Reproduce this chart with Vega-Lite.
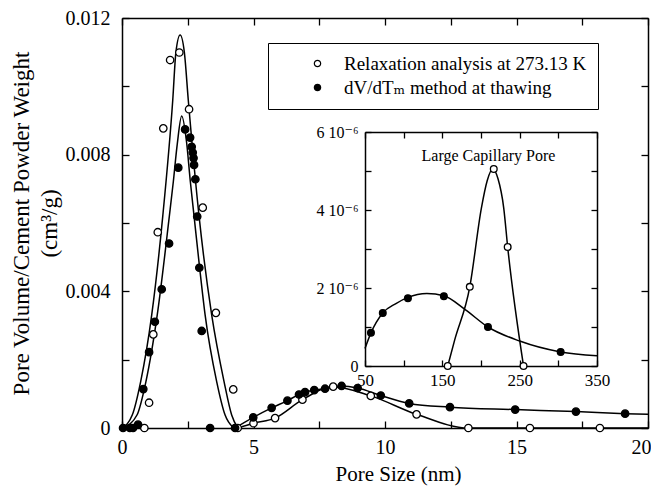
{
  "$schema": "https://vega.github.io/schema/vega-lite/v6.json",
  "width": 526,
  "height": 410,
  "autosize": "none",
  "padding": {"left": 122, "top": 18, "right": 3, "bottom": 65},
  "background": "white",
  "config": {
    "view": {"stroke": null},
    "font": "Liberation Serif, DejaVu Serif, DejaVu Sans",
    "axis": {
      "grid": false,
      "labelFont": "Liberation Serif, DejaVu Serif, DejaVu Sans",
      "titleFont": "Liberation Serif, DejaVu Serif, DejaVu Sans",
      "labelColor": "black",
      "titleColor": "black",
      "domainColor": "black",
      "tickColor": "black",
      "domainWidth": 1.5,
      "tickWidth": 1.3,
      "labelFlush": false,
      "titleFontWeight": "normal"
    },
    "legend": {
      "labelFont": "Liberation Serif, DejaVu Serif, DejaVu Sans",
      "labelColor": "black"
    }
  },
  "datasets": {
    "points": [
      {"size": 0.85, "vol": 0, "series": "Relaxation analysis at 273.13 K"},
      {"size": 1.03, "vol": 0.00074, "series": "Relaxation analysis at 273.13 K"},
      {"size": 1.19, "vol": 0.00274, "series": "Relaxation analysis at 273.13 K"},
      {"size": 1.36, "vol": 0.00573, "series": "Relaxation analysis at 273.13 K"},
      {"size": 1.57, "vol": 0.00877, "series": "Relaxation analysis at 273.13 K"},
      {"size": 1.83, "vol": 0.01077, "series": "Relaxation analysis at 273.13 K"},
      {"size": 2.18, "vol": 0.01099, "series": "Relaxation analysis at 273.13 K"},
      {"size": 2.55, "vol": 0.00933, "series": "Relaxation analysis at 273.13 K"},
      {"size": 3.07, "vol": 0.00645, "series": "Relaxation analysis at 273.13 K"},
      {"size": 3.57, "vol": 0.00337, "series": "Relaxation analysis at 273.13 K"},
      {"size": 4.23, "vol": 0.00113, "series": "Relaxation analysis at 273.13 K"},
      {"size": 4.4, "vol": 0, "series": "Relaxation analysis at 273.13 K"},
      {"size": 5.0, "vol": 0.00014, "series": "Relaxation analysis at 273.13 K"},
      {"size": 5.82, "vol": 0.00029, "series": "Relaxation analysis at 273.13 K"},
      {"size": 6.86, "vol": 0.00083, "series": "Relaxation analysis at 273.13 K"},
      {"size": 8.03, "vol": 0.00121, "series": "Relaxation analysis at 273.13 K"},
      {"size": 9.46, "vol": 0.00094, "series": "Relaxation analysis at 273.13 K"},
      {"size": 11.2, "vol": 0.0004, "series": "Relaxation analysis at 273.13 K"},
      {"size": 13.17, "vol": 0, "series": "Relaxation analysis at 273.13 K"},
      {"size": 15.51, "vol": 0, "series": "Relaxation analysis at 273.13 K"},
      {"size": 18.17, "vol": 0, "series": "Relaxation analysis at 273.13 K"},
      {"size": 0.04, "vol": 0, "series": "dV/dTₘ method at thawing"},
      {"size": 0.3, "vol": 0, "series": "dV/dTₘ method at thawing"},
      {"size": 0.42, "vol": 0, "series": "dV/dTₘ method at thawing"},
      {"size": 0.61, "vol": 0.0001, "series": "dV/dTₘ method at thawing"},
      {"size": 0.81, "vol": 0.00114, "series": "dV/dTₘ method at thawing"},
      {"size": 1.03, "vol": 0.00222, "series": "dV/dTₘ method at thawing"},
      {"size": 1.25, "vol": 0.00311, "series": "dV/dTₘ method at thawing"},
      {"size": 1.51, "vol": 0.00406, "series": "dV/dTₘ method at thawing"},
      {"size": 1.79, "vol": 0.0054, "series": "dV/dTₘ method at thawing"},
      {"size": 2.14, "vol": 0.00762, "series": "dV/dTₘ method at thawing"},
      {"size": 2.4, "vol": 0.00874, "series": "dV/dTₘ method at thawing"},
      {"size": 2.59, "vol": 0.0085, "series": "dV/dTₘ method at thawing"},
      {"size": 2.65, "vol": 0.00823, "series": "dV/dTₘ method at thawing"},
      {"size": 2.69, "vol": 0.00806, "series": "dV/dTₘ method at thawing"},
      {"size": 2.72, "vol": 0.0079, "series": "dV/dTₘ method at thawing"},
      {"size": 2.74, "vol": 0.0077, "series": "dV/dTₘ method at thawing"},
      {"size": 2.79, "vol": 0.00728, "series": "dV/dTₘ method at thawing"},
      {"size": 2.86, "vol": 0.00619, "series": "dV/dTₘ method at thawing"},
      {"size": 2.94, "vol": 0.00469, "series": "dV/dTₘ method at thawing"},
      {"size": 3.03, "vol": 0.00284, "series": "dV/dTₘ method at thawing"},
      {"size": 3.35, "vol": 0, "series": "dV/dTₘ method at thawing"},
      {"size": 4.3, "vol": 0, "series": "dV/dTₘ method at thawing"},
      {"size": 4.99, "vol": 0.00031, "series": "dV/dTₘ method at thawing"},
      {"size": 5.69, "vol": 0.00059, "series": "dV/dTₘ method at thawing"},
      {"size": 6.29, "vol": 0.0008, "series": "dV/dTₘ method at thawing"},
      {"size": 6.73, "vol": 0.00098, "series": "dV/dTₘ method at thawing"},
      {"size": 6.96, "vol": 0.00105, "series": "dV/dTₘ method at thawing"},
      {"size": 7.31, "vol": 0.00111, "series": "dV/dTₘ method at thawing"},
      {"size": 7.72, "vol": 0.00115, "series": "dV/dTₘ method at thawing"},
      {"size": 8.35, "vol": 0.00123, "series": "dV/dTₘ method at thawing"},
      {"size": 8.96, "vol": 0.00117, "series": "dV/dTₘ method at thawing"},
      {"size": 9.84, "vol": 0.00095, "series": "dV/dTₘ method at thawing"},
      {"size": 10.92, "vol": 0.00072, "series": "dV/dTₘ method at thawing"},
      {"size": 12.47, "vol": 0.00061, "series": "dV/dTₘ method at thawing"},
      {"size": 14.95, "vol": 0.00054, "series": "dV/dTₘ method at thawing"},
      {"size": 17.26, "vol": 0.00048, "series": "dV/dTₘ method at thawing"},
      {"size": 19.13, "vol": 0.00042, "series": "dV/dTₘ method at thawing"}
    ],
    "curves": [
      {"curve": "fitO", "size": 0, "vol": 0},
      {"curve": "fitO", "size": 0.39, "vol": 0.00038},
      {"curve": "fitO", "size": 0.71, "vol": 0.00136},
      {"curve": "fitO", "size": 1.13, "vol": 0.00331},
      {"curve": "fitO", "size": 1.55, "vol": 0.0062},
      {"curve": "fitO", "size": 1.93, "vol": 0.0096},
      {"curve": "fitO", "size": 2.05, "vol": 0.011},
      {"curve": "fitO", "size": 2.21, "vol": 0.0115},
      {"curve": "fitO", "size": 2.37, "vol": 0.011},
      {"curve": "fitO", "size": 2.52, "vol": 0.0096},
      {"curve": "fitO", "size": 2.93, "vol": 0.0062},
      {"curve": "fitO", "size": 3.41, "vol": 0.00331},
      {"curve": "fitO", "size": 3.88, "vol": 0.00136},
      {"curve": "fitO", "size": 4.17, "vol": 0.00038},
      {"curve": "fitO", "size": 4.4, "vol": 0},
      {"curve": "fitF", "size": 0.05, "vol": 0},
      {"curve": "fitF", "size": 0.57, "vol": 0.00038},
      {"curve": "fitF", "size": 0.91, "vol": 0.00136},
      {"curve": "fitF", "size": 1.34, "vol": 0.00331},
      {"curve": "fitF", "size": 1.8, "vol": 0.0062},
      {"curve": "fitF", "size": 1.95, "vol": 0.0072},
      {"curve": "fitF", "size": 2.1, "vol": 0.0083},
      {"curve": "fitF", "size": 2.27, "vol": 0.00913},
      {"curve": "fitF", "size": 2.45, "vol": 0.0084},
      {"curve": "fitF", "size": 2.6, "vol": 0.0072},
      {"curve": "fitF", "size": 2.74, "vol": 0.0062},
      {"curve": "fitF", "size": 2.95, "vol": 0.0047},
      {"curve": "fitF", "size": 3.16, "vol": 0.00331},
      {"curve": "fitF", "size": 3.6, "vol": 0.00136},
      {"curve": "fitF", "size": 3.92, "vol": 0.00038},
      {"curve": "fitF", "size": 4.25, "vol": 0},
      {"curve": "tailO", "size": 4.4, "vol": 0},
      {"curve": "tailO", "size": 5.0, "vol": 0.00014},
      {"curve": "tailO", "size": 5.82, "vol": 0.00029},
      {"curve": "tailO", "size": 6.86, "vol": 0.00083},
      {"curve": "tailO", "size": 8.03, "vol": 0.00121},
      {"curve": "tailO", "size": 9.46, "vol": 0.00094},
      {"curve": "tailO", "size": 11.2, "vol": 0.0004},
      {"curve": "tailO", "size": 13.17, "vol": 0},
      {"curve": "tailO", "size": 20, "vol": 0},
      {"curve": "tailF", "size": 4.3, "vol": 0},
      {"curve": "tailF", "size": 4.99, "vol": 0.00031},
      {"curve": "tailF", "size": 5.69, "vol": 0.00059},
      {"curve": "tailF", "size": 6.29, "vol": 0.0008},
      {"curve": "tailF", "size": 6.73, "vol": 0.00098},
      {"curve": "tailF", "size": 6.96, "vol": 0.00105},
      {"curve": "tailF", "size": 7.31, "vol": 0.00111},
      {"curve": "tailF", "size": 7.72, "vol": 0.00115},
      {"curve": "tailF", "size": 8.35, "vol": 0.00123},
      {"curve": "tailF", "size": 8.96, "vol": 0.00117},
      {"curve": "tailF", "size": 9.84, "vol": 0.00095},
      {"curve": "tailF", "size": 10.92, "vol": 0.00072},
      {"curve": "tailF", "size": 12.47, "vol": 0.00061},
      {"curve": "tailF", "size": 14.95, "vol": 0.00054},
      {"curve": "tailF", "size": 17.26, "vol": 0.00048},
      {"curve": "tailF", "size": 19.13, "vol": 0.00042},
      {"curve": "tailF", "size": 20, "vol": 0.0004}
    ],
    "inset_points": [
      {"method": "relax", "size": 157, "vol": 0},
      {"method": "relax", "size": 185.5, "vol": 2.03e-6},
      {"method": "relax", "size": 216.5, "vol": 5.05e-6},
      {"method": "relax", "size": 234.5, "vol": 3.05e-6},
      {"method": "relax", "size": 255, "vol": 0},
      {"method": "dvdt", "size": 57.7, "vol": 0.85e-6},
      {"method": "dvdt", "size": 73, "vol": 1.36e-6},
      {"method": "dvdt", "size": 105.5, "vol": 1.74e-6},
      {"method": "dvdt", "size": 152, "vol": 1.79e-6},
      {"method": "dvdt", "size": 209, "vol": 1.0e-6},
      {"method": "dvdt", "size": 303, "vol": 0.36e-6}
    ],
    "inset_curves": [
      {"curve": "relax", "size": 157, "vol": 0},
      {"curve": "relax", "size": 166, "vol": 0.67e-6},
      {"curve": "relax", "size": 185.5, "vol": 2.03e-6},
      {"curve": "relax", "size": 200.5, "vol": 4.05e-6},
      {"curve": "relax", "size": 208, "vol": 4.75e-6},
      {"curve": "relax", "size": 215, "vol": 5.05e-6},
      {"curve": "relax", "size": 222, "vol": 4.8e-6},
      {"curve": "relax", "size": 229.4, "vol": 4.05e-6},
      {"curve": "relax", "size": 234.5, "vol": 3.05e-6},
      {"curve": "relax", "size": 255, "vol": 0},
      {"curve": "dvdt", "size": 50, "vol": 0.45e-6},
      {"curve": "dvdt", "size": 57.7, "vol": 0.85e-6},
      {"curve": "dvdt", "size": 73, "vol": 1.36e-6},
      {"curve": "dvdt", "size": 90, "vol": 1.6e-6},
      {"curve": "dvdt", "size": 105.5, "vol": 1.76e-6},
      {"curve": "dvdt", "size": 130, "vol": 1.86e-6},
      {"curve": "dvdt", "size": 152, "vol": 1.8e-6},
      {"curve": "dvdt", "size": 180, "vol": 1.44e-6},
      {"curve": "dvdt", "size": 209, "vol": 1.0e-6},
      {"curve": "dvdt", "size": 250, "vol": 0.64e-6},
      {"curve": "dvdt", "size": 303, "vol": 0.36e-6},
      {"curve": "dvdt", "size": 350, "vol": 0.26e-6}
    ]
  },
  "layer": [
    {
      "layer": [
        {
          "data": {"name": "curves"},
          "mark": {"type": "line", "interpolate": "monotone", "color": "black", "strokeWidth": 1.5, "clip": true},
          "encoding": {
            "x": {
              "field": "size", "type": "quantitative",
              "scale": {"domain": [0, 20], "nice": false, "zero": false},
              "axis": {
                "orient": "bottom",
                "values": [0, 2.5, 5, 7.5, 10, 12.5, 15, 17.5, 20],
                "labelExpr": "datum.value % 5 == 0 ? format(datum.value, 'd') : ''",
                "labelAlign": {"expr": "datum.value == 20 ? 'right' : 'center'"},
                "labelOffset": {"expr": "datum.value == 20 ? 3 : 0"},
                "tickSize": -7,
                "labelPadding": 16,
                "labelFontSize": 20,
                "title": "Pore Size (nm)",
                "titleFontSize": 21,
                "titlePadding": 6,
                "titleX": 276
              }
            },
            "y": {
              "field": "vol", "type": "quantitative",
              "scale": {"domain": [0, 0.012], "nice": false, "zero": false},
              "axis": {
                "orient": "left",
                "values": [0, 0.002, 0.004, 0.006, 0.008, 0.01, 0.012],
                "labelExpr": "datum.value == 0 ? '0' : (round(datum.value * 1000) % 4 == 0 ? format(datum.value, '.3f') : '')",
                "tickSize": -7,
                "labelPadding": 19,
                "labelFontSize": 20,
                "title": ["Pore Volume/Cement Powder Weight", "(cm³/g)"],
                "titleFontSize": 23,
                "titleLineHeight": 28,
                "titlePadding": 4
              }
            },
            "detail": {"field": "curve", "type": "nominal"}
          }
        },
        {
          "data": {"name": "points"},
          "mark": {"type": "point", "shape": "circle", "filled": true, "stroke": "black", "strokeWidth": 1.3, "size": 55, "opacity": 1},
          "encoding": {
            "x": {
              "field": "size", "type": "quantitative",
              "scale": {"domain": [0, 20], "nice": false, "zero": false},
              "axis": {
                "orient": "top",
                "values": [0, 2.5, 5, 7.5, 10, 12.5, 15, 17.5, 20],
                "labels": false, "tickSize": -7, "title": null
              }
            },
            "y": {
              "field": "vol", "type": "quantitative",
              "scale": {"domain": [0, 0.012], "nice": false, "zero": false},
              "axis": {
                "orient": "right",
                "values": [0, 0.002, 0.004, 0.006, 0.008, 0.01, 0.012],
                "labels": false, "tickSize": -7, "title": null
              }
            },
            "fill": {
              "field": "series", "type": "nominal",
              "scale": {"domain": ["Relaxation analysis at 273.13 K", "dV/dTₘ method at thawing"], "range": ["white", "black"]},
              "legend": {
                "title": null,
                "orient": "none",
                "legendX": 146,
                "legendY": 25,
                "strokeColor": "black",
                "padding": 11,
                "symbolType": "circle",
                "symbolSize": 40,
                "symbolStrokeColor": "black",
                "symbolStrokeWidth": 1.2,
                "symbolOffset": 29,
                "labelOffset": 17,
                "labelFontSize": 19,
                "rowPadding": 4,
                "labelLimit": 400
              }
            }
          }
        }
      ],
      "resolve": {"axis": {"x": "independent", "y": "independent"}}
    },
    {
      "layer": [
        {
          "data": {"name": "inset_curves"},
          "mark": {"type": "line", "interpolate": "monotone", "color": "black", "strokeWidth": 1.5},
          "encoding": {
            "x": {
              "field": "size", "type": "quantitative",
              "scale": {"domain": [50, 350], "range": [243, 475], "nice": false, "zero": false},
              "axis": {
                "orient": "bottom", "offset": -62,
                "values": [50, 100, 150, 200, 250, 300, 350],
                "labelExpr": "(datum.value - 50) % 100 == 0 ? format(datum.value, 'd') : ''",
                "tickSize": -6, "labelPadding": 12, "labelFontSize": 17,
                "title": null
              }
            },
            "y": {
              "field": "vol", "type": "quantitative",
              "scale": {"domain": [0, 6e-6], "range": [348, 114], "nice": false, "zero": false},
              "axis": {
                "orient": "left", "offset": -243,
                "values": [0, 1e-6, 2e-6, 3e-6, 4e-6, 5e-6, 6e-6],
                "labelExpr": "round(datum.value * 1e6) % 2 == 0 ? (datum.value == 0 ? '0' : format(round(datum.value * 1e6), 'd') + ' 10⁻⁶') : ''",
                "tickSize": -6, "labelPadding": 13, "labelFontSize": 16,
                "title": null
              }
            },
            "detail": {"field": "curve", "type": "nominal"}
          }
        },
        {
          "data": {"name": "inset_points"},
          "transform": [{"filter": "datum.method == 'relax'"}],
          "mark": {"type": "point", "shape": "circle", "filled": true, "fill": "white", "stroke": "black", "strokeWidth": 1.3, "size": 45, "opacity": 1},
          "encoding": {
            "x": {
              "field": "size", "type": "quantitative",
              "scale": {"domain": [50, 350], "range": [243, 475], "nice": false, "zero": false},
              "axis": {
                "orient": "top", "offset": -114,
                "values": [50, 100, 150, 200, 250, 300, 350],
                "labels": false, "tickSize": -6,
                "title": "Large Capillary Pore",
                "titleFontSize": 16,
                "titleBaseline": "middle",
                "titleY": 23,
                "titleX": 366
              }
            },
            "y": {
              "field": "vol", "type": "quantitative",
              "scale": {"domain": [0, 6e-6], "range": [348, 114], "nice": false, "zero": false},
              "axis": {
                "orient": "right", "offset": -51,
                "values": [0, 1e-6, 2e-6, 3e-6, 4e-6, 5e-6, 6e-6],
                "labels": false, "tickSize": -6, "title": null
              }
            }
          }
        },
        {
          "data": {"name": "inset_points"},
          "transform": [{"filter": "datum.method == 'dvdt'"}],
          "mark": {"type": "point", "shape": "circle", "filled": true, "fill": "black", "stroke": "black", "strokeWidth": 1.3, "size": 45, "opacity": 1},
          "encoding": {
            "x": {
              "field": "size", "type": "quantitative",
              "scale": {"domain": [50, 350], "range": [243, 475], "nice": false, "zero": false},
              "axis": null
            },
            "y": {
              "field": "vol", "type": "quantitative",
              "scale": {"domain": [0, 6e-6], "range": [348, 114], "nice": false, "zero": false},
              "axis": null
            }
          }
        }
      ],
      "resolve": {"axis": {"x": "independent", "y": "independent"}}
    }
  ],
  "resolve": {"scale": {"x": "independent", "y": "independent"}}
}
